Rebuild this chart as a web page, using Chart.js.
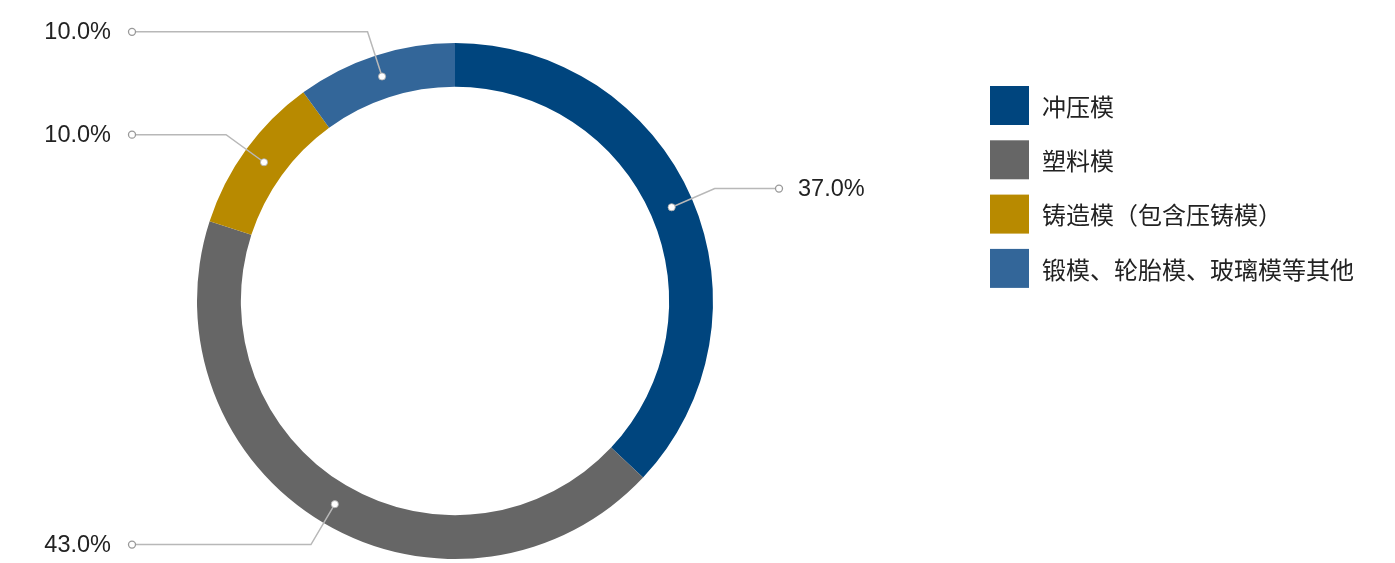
<!DOCTYPE html>
<html>
<head>
<meta charset="utf-8">
<script src="https://cdn.jsdelivr.net/npm/chart.js@4.4.1/dist/chart.umd.min.js"></script>
<style>
  html, body { margin: 0; padding: 0; background: #ffffff; overflow: hidden; }
  #wrap { position: relative; width: 1395px; height: 563px; }
</style>
</head>
<body>
<div id="wrap"><canvas id="c" width="1395" height="563"></canvas></div>
<script>
// ---- data ----
const categories = ['冲压模', '塑料模', '铸造模（包含压铸模）', '锻模、轮胎模、玻璃模等其他'];
const shares = [37.0, 43.0, 10.0, 10.0];
const sliceColors = ['#00457E', '#666666', '#B88A00', '#336699'];

// ---- leader-line labels drawn from the arc elements ----
const leaderLabels = {
  id: 'leaderLabels',
  afterDatasetsDraw(chart) {
    const ctx = chart.ctx;
    const ca = chart.chartArea;
    const meta = chart.getDatasetMeta(0);
    const values = chart.data.datasets[0].data;
    ctx.save();
    meta.data.forEach((arc, i) => {
      const p = arc.getProps(['x', 'y', 'startAngle', 'endAngle', 'innerRadius', 'outerRadius'], true);
      const mid = (p.startAngle + p.endAngle) / 2;
      const rMid = (p.innerRadius + p.outerRadius) / 2;
      const dx = Math.cos(mid), dy = Math.sin(mid);
      const px = p.x + dx * rMid, py = p.y + dy * rMid;
      const ex = p.x + dx * (p.outerRadius + 25), ey = p.y + dy * (p.outerRadius + 25);
      const right = dx >= 0;
      const hx = right ? ca.right + 66 : ca.left - 65;

      ctx.strokeStyle = '#B8B8B8';
      ctx.lineWidth = 1.5;
      ctx.beginPath();
      ctx.moveTo(px, py);
      ctx.lineTo(ex, ey);
      ctx.lineTo(hx, ey);
      ctx.stroke();

      // end marker (hollow circle)
      ctx.beginPath();
      ctx.arc(hx, ey, 3.5, 0, Math.PI * 2);
      ctx.fillStyle = '#ffffff';
      ctx.fill();
      ctx.strokeStyle = '#999999';
      ctx.lineWidth = 1.3;
      ctx.stroke();

      // dot on the ring
      ctx.beginPath();
      ctx.arc(px, py, 3.6, 0, Math.PI * 2);
      ctx.fillStyle = '#ffffff';
      ctx.fill();
      ctx.strokeStyle = 'rgba(170,170,170,0.8)';
      ctx.lineWidth = 1;
      ctx.stroke();

      // text
      ctx.fillStyle = '#222222';
      ctx.font = '23.5px "Liberation Sans", Arial, sans-serif';
      ctx.textBaseline = 'middle';
      const txt = values[i].toFixed(1) + '%';
      if (right) {
        ctx.textAlign = 'left';
        ctx.fillText(txt, hx + 19, ey + 1);
      } else {
        ctx.textAlign = 'right';
        ctx.fillText(txt, hx - 21, ey + 1);
      }
    });
    ctx.restore();
  }
};

// ---- legend drawn from chart data ----
const sideLegend = {
  id: 'sideLegend',
  afterDraw(chart) {
    const ctx = chart.ctx;
    const labels = chart.data.labels;
    const colors = chart.data.datasets[0].backgroundColor;
    const x0 = 990, y0 = 86, box = 39, step = 54.3;
    ctx.save();
    ctx.font = '24px "Noto Sans CJK SC", "Noto Sans", sans-serif';
    ctx.textBaseline = 'middle';
    ctx.textAlign = 'left';
    labels.forEach((lab, i) => {
      const top = y0 + i * step;
      ctx.fillStyle = colors[i];
      ctx.fillRect(x0, top, box, box);
      ctx.fillStyle = '#222222';
      ctx.fillText(lab, x0 + 52, top + box / 2 + 1);
    });
    ctx.restore();
  }
};

new Chart(document.getElementById('c'), {
  type: 'doughnut',
  data: {
    labels: categories,
    datasets: [{
      data: shares,
      backgroundColor: sliceColors,
      borderWidth: 0,
      hoverOffset: 0
    }]
  },
  options: {
    responsive: false,
    animation: false,
    events: [],
    cutout: '83%',
    layout: { padding: { left: 197, top: 43, right: 682, bottom: 4 } },
    plugins: {
      legend: { display: false },
      tooltip: { enabled: false },
      title: { display: false }
    }
  },
  plugins: [leaderLabels, sideLegend]
});
</script>
</body>
</html>
